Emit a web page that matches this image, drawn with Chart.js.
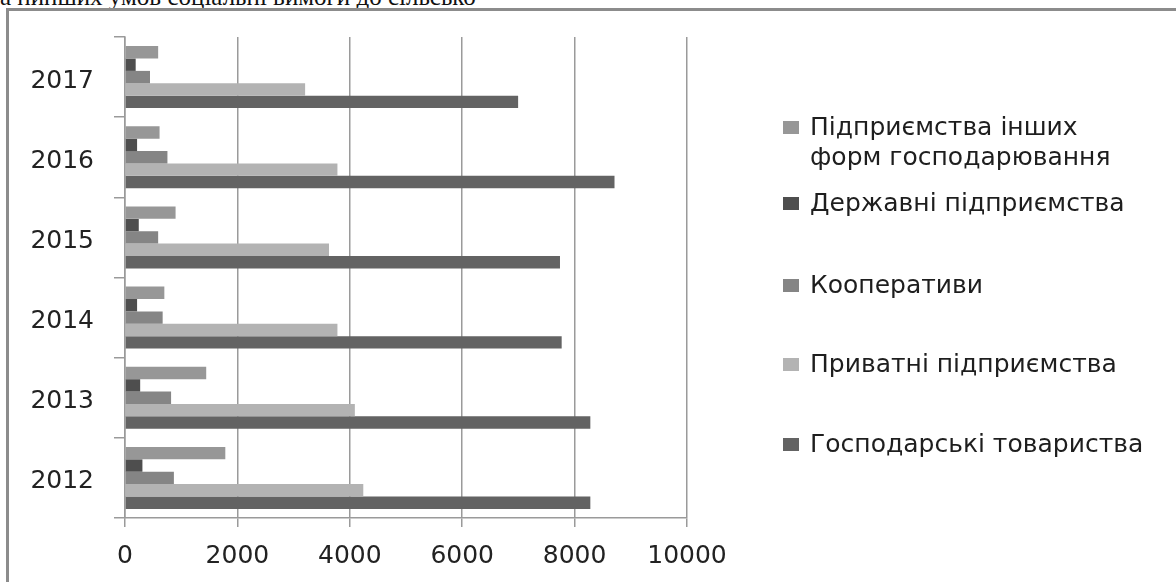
<!DOCTYPE html>
<html>
<head>
<meta charset="utf-8">
<script src="https://cdn.jsdelivr.net/npm/chart.js@4"></script>
<style>
  body { margin: 0; background: #fff; width: 1176px; height: 582px; overflow: hidden; position: relative; }
  #toptext { position: absolute; left: 0; top: -17px; font-family: "Liberation Serif", serif; font-size: 25px; color: #111; white-space: nowrap; }
  #frame { position: absolute; left: 6px; top: 8px; width: 1200px; height: 600px; border-left: 3px solid #8c8c8c; border-top: 3px solid #8c8c8c; }
  #chart { position: absolute; left: 0; top: 0; }
  #legend { position: absolute; left: 783px; top: 0; font-family: "DejaVu Sans", sans-serif; font-size: 25px; color: #1e1e1e; }
  .item { position: absolute; left: 0; display: flex; align-items: flex-start; line-height: 30px; white-space: pre-line; width: 392px; }
  .box { width: 16px; height: 13px; margin-top: 9px; margin-right: 11px; flex: none; }
</style>
</head>
<body>
<div id="toptext">а нинших умов соціальні вимоги до сільсько</div>
<div id="frame"></div>
<canvas id="chart" width="1176" height="582"></canvas>
<div id="legend"></div>
<script>
// Categories and series
const years = ['2012', '2013', '2014', '2015', '2016', '2017'];
const seriesNames = [
    'Підприємства інших\nформ господарювання',
    'Державні підприємства',
    'Кооперативи',
    'Приватні підприємства',
    'Господарські товариства'
];
const otherForms = [1785, 1445, 700, 900, 615, 590];
const stateOwned = [310, 270, 215, 245, 215, 190];
const cooperatives = [870, 820, 670, 590, 755, 445];
const privateFirms = [4240, 4090, 3780, 3630, 3780, 3205];
const companies = [8280, 8280, 7770, 7740, 8710, 6995];
const xTicks = [0, 2000, 4000, 6000, 8000, 10000];

const seriesValues = [otherForms, stateOwned, cooperatives, privateFirms, companies];
const seriesColors = ['#979797', '#4e4e4e', '#858585', '#b3b3b3', '#636363'];

const axisFont = { family: 'DejaVu Sans', size: 25 };
const axisColor = '#222';
const lineColor = '#9a9a9a';

const ctx = document.getElementById('chart').getContext('2d');
const chart = new Chart(ctx, {
    type: 'bar',
    data: {
        labels: years,
        datasets: seriesNames.map((name, i) => ({
            label: name,
            data: seriesValues[i],
            backgroundColor: seriesColors[i],
            borderWidth: 0,
            categoryPercentage: 0.773,
            barPercentage: 1
        }))
    },
    options: {
        indexAxis: 'y',
        responsive: false,
        animation: false,
        layout: { padding: { top: 37, right: 489, left: 0, bottom: 0 } },
        plugins: {
            legend: { display: false },
            tooltip: { enabled: false }
        },
        scales: {
            x: {
                min: 0,
                max: 10000,
                afterBuildTicks: scale => { scale.ticks = xTicks.map(v => ({ value: v })); },
                ticks: { font: axisFont, color: axisColor, padding: 14, maxRotation: 0, callback: v => String(v) },
                grid: { color: lineColor, lineWidth: 1.5, tickLength: 9 },
                border: { color: lineColor, width: 1.5 },
                afterFit: scale => { scale.height = 64; }
            },
            y: {
                reverse: true,
                ticks: { font: axisFont, color: axisColor, padding: 20, labelOffset: 4 },
                grid: { offset: true, drawOnChartArea: false, tickLength: 11, color: lineColor, lineWidth: 1.5 },
                border: { color: lineColor, width: 1.5 },
                afterFit: scale => { scale.width = 125; }
            }
        }
    }
});

// Legend on the right, built from the same series
const legendTops = [112, 188, 270, 349, 429];
const legend = document.getElementById('legend');
seriesNames.forEach((name, i) => {
    const item = document.createElement('div');
    item.className = 'item';
    item.style.top = legendTops[i] + 'px';
    item.innerHTML = `<span class="box" style="background:${seriesColors[i]}"></span><span></span>`;
    item.lastChild.textContent = name;
    legend.appendChild(item);
});
</script>
</body>
</html>
